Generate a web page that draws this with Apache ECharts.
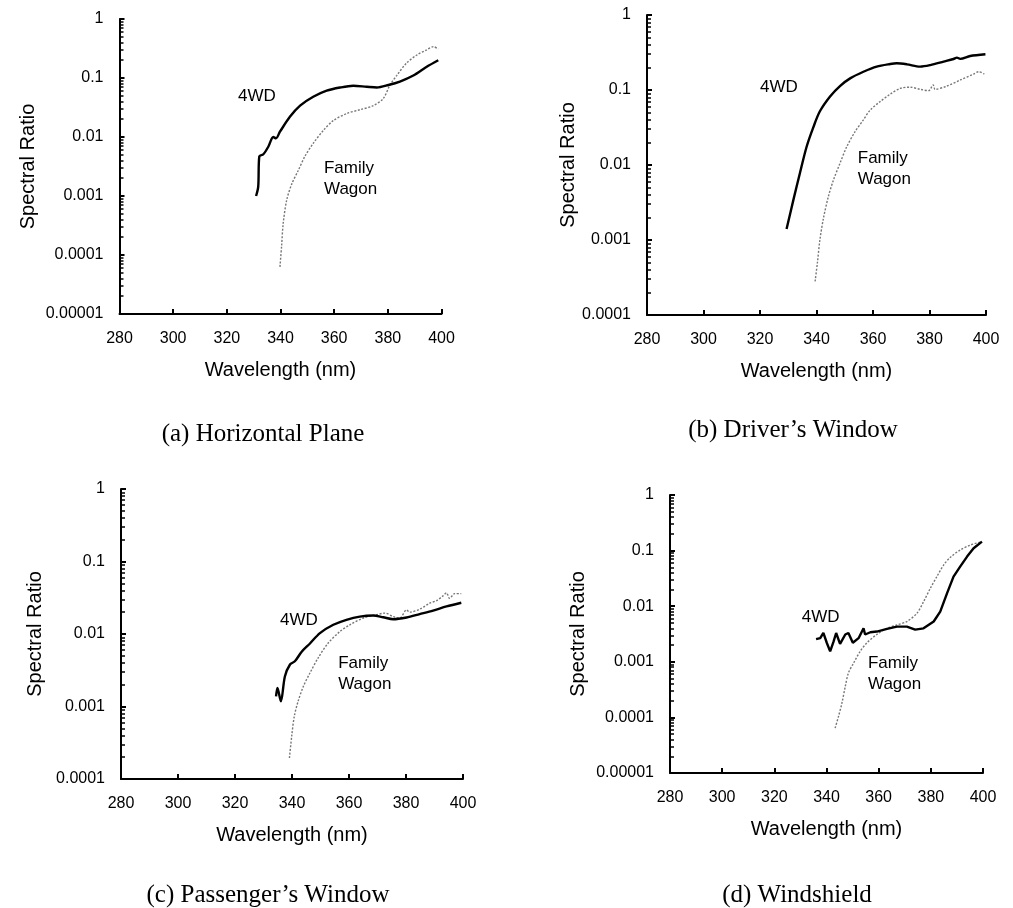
<!DOCTYPE html>
<html>
<head>
<meta charset="utf-8">
<script src="https://cdn.jsdelivr.net/npm/echarts@6/dist/echarts.min.js"></script>
<style>html,body{margin:0;padding:0;background:#fff}#c{width:1013px;height:908px}</style>
</head>
<body>
<div id="c"></div>
<script>
// ---- Data (wavelength nm, spectral ratio) ----
const xTicks = [280, 300, 320, 340, 360, 380, 400];
const yTicks5 = ['0.00001', '0.0001', '0.001', '0.01', '0.1', '1'];
const yTicks4 = ['0.0001', '0.001', '0.01', '0.1', '1'];
const captions = ['(a) Horizontal Plane', "(b) Driver\u2019s Window", "(c) Passenger\u2019s Window", '(d) Windshield'];
const seriesNames = ['4WD', 'Family\nWagon'];

const a4WD = [[330.9,0.001],[331.7,0.00144],[332.1,0.0047],[333.6,0.0051],[335.5,0.0069],[337.3,0.01],[338.3,0.0095],[339.8,0.0123],[343.5,0.022],[347.3,0.034],[352.2,0.048],[357.2,0.061],[362.2,0.069],[367.1,0.074],[372.1,0.071],[375.9,0.069],[380.2,0.076],[384.5,0.087],[389.5,0.11],[394.5,0.155],[398.8,0.20]];
const aFW = [[339.8,6.3e-5],[340.4,1.4e-4],[341.0,3.4e-4],[342.3,8.5e-4],[344.2,0.0016],[346.6,0.0027],[349.1,0.0047],[352.2,0.0078],[356.0,0.013],[359.7,0.019],[364.7,0.025],[369.6,0.029],[374.6,0.034],[378.3,0.045],[380.8,0.076],[383.3,0.11],[387.0,0.18],[390.8,0.245],[394.5,0.30],[397.0,0.34],[398.8,0.31]];

const b4WD = [[329.4,0.0014],[331.8,0.0034],[334.1,0.0077],[336.5,0.0175],[338.9,0.032],[341.2,0.052],[344.8,0.082],[348.3,0.113],[351.9,0.143],[356.6,0.175],[361.3,0.205],[366.1,0.222],[368.4,0.227],[372.0,0.22],[376.7,0.205],[380.3,0.215],[385.0,0.239],[388.5,0.259],[389.7,0.27],[390.9,0.26],[394.4,0.284],[399.8,0.30]];
const bFW = [[339.5,2.8e-4],[340.3,4.9e-4],[341.2,0.001],[342.4,0.0019],[344.2,0.0038],[346.0,0.0063],[348.3,0.0105],[350.7,0.0175],[353.7,0.028],[356.6,0.040],[359.0,0.054],[362.5,0.07],[366.1,0.088],[369.6,0.105],[373.2,0.109],[376.7,0.102],[379.7,0.098],[381.3,0.117],[382.0,0.102],[386.2,0.113],[390.9,0.136],[395.6,0.163],[397.4,0.175],[399.4,0.163]];

const c4WD = [[334.4,0.00138],[334.9,0.0018],[336.1,0.00118],[337.5,0.0026],[339.3,0.0038],[341.0,0.0042],[343.4,0.0057],[346.3,0.0074],[349.8,0.0103],[354.5,0.0134],[359.1,0.0157],[363.8,0.0174],[368.5,0.018],[372.0,0.017],[375.5,0.016],[380.2,0.0169],[384.8,0.0188],[389.5,0.021],[394.2,0.024],[399.4,0.027]];
const cFW = [[339.1,1.95e-4],[339.9,3.9e-4],[340.8,7.3e-4],[342.2,0.0012],[344.0,0.0019],[346.3,0.0029],[349.2,0.0047],[352.7,0.0075],[356.8,0.0108],[360.3,0.0134],[365.0,0.0166],[369.6,0.0184],[372.6,0.0194],[375.5,0.0174],[377.8,0.0166],[380.2,0.0215],[381.3,0.02],[384.8,0.022],[388.3,0.0266],[390.7,0.0288],[393.0,0.0336],[394.2,0.037],[395.3,0.031],[397.1,0.036],[399.4,0.036]];

const d4WD = [[336.0,0.00255],[337.6,0.00266],[338.8,0.0033],[340.1,0.0022],[341.4,0.00154],[342.7,0.0023],[343.7,0.0033],[345.2,0.0021],[347.2,0.0031],[348.4,0.0033],[350.1,0.0022],[352.3,0.00266],[354.2,0.004],[354.8,0.0031],[356.8,0.0034],[359.3,0.0035],[363.2,0.0039],[367.0,0.0043],[370.8,0.0043],[374.0,0.0038],[377.2,0.004],[381.1,0.0053],[383.6,0.008],[386.2,0.017],[388.7,0.034],[391.3,0.052],[393.9,0.078],[396.4,0.11],[399.6,0.145]];
const dFW = [[343.3,6.4e-5],[344.6,1.04e-4],[345.9,1.8e-4],[347.2,3.6e-4],[348.4,6.3e-4],[350.4,9.5e-4],[352.9,0.00154],[355.5,0.0022],[359.3,0.0031],[363.2,0.004],[367.0,0.0046],[370.8,0.0053],[374.7,0.0075],[377.2,0.012],[379.8,0.021],[382.3,0.034],[384.9,0.055],[387.5,0.076],[391.3,0.103],[395.2,0.126],[399.6,0.145]];

// ---- Layout ----
const panels = [
  {grid:{left:119.5, top:19, width:322, height:295}, ymin:1e-5, ymax:1, yt:yTicks5, w:a4WD, f:aFW, a4:[324.2,0.048], af:[356.2,0.00195], cap:[258,430], yGap:81},
  {grid:{left:647, top:15, width:339, height:300}, ymin:1e-4, ymax:1, yt:yTicks4, w:b4WD, f:bFW, a4:[320.0,0.109], af:[354.6,0.00885], cap:[788,426], yGap:69},
  {grid:{left:121, top:489, width:342, height:290}, ymin:1e-4, ymax:1, yt:yTicks4, w:c4WD, f:cFW, a4:[335.8,0.0153], af:[356.2,0.00283], cap:[263,891], yGap:76},
  {grid:{left:670, top:495, width:313, height:278}, ymin:1e-5, ymax:1, yt:yTicks5, w:d4WD, f:dFW, a4:[330.5,0.00626], af:[355.9,6.1e-4], cap:[792,891], yGap:82}
];

const SANS = 'Liberation Sans';
function minorVals(min, max) {
  const out = [];
  for (let e = Math.round(Math.log10(min)); e < Math.round(Math.log10(max)); e++) {
    for (let k = 2; k <= 9; k++) out.push(+(k * Math.pow(10, e)).toPrecision(3));
  }
  return out;
}
function majorVals(labels) { return labels.map(Number); }

const option = {
  animation: false,
  backgroundColor: '#fff',
  title: [], grid: [], xAxis: [], yAxis: [], series: []
};

panels.forEach((p, i) => {
  option.grid.push(Object.assign({containLabel: false}, p.grid));
  option.title.push({
    text: captions[i], left: p.cap[0], top: p.cap[1] - 13, textAlign: 'center',
    textStyle: {fontFamily: 'Liberation Serif', fontSize: 25, fontWeight: 'normal', color: '#000'}
  });
  option.xAxis.push({
    type: 'value', gridIndex: i, min: xTicks[0], max: xTicks[xTicks.length - 1], interval: 20,
    name: 'Wavelength (nm)', nameLocation: 'middle', nameGap: 46,
    nameTextStyle: {fontFamily: SANS, fontSize: 20, color: '#000'},
    axisLine: {show: true, lineStyle: {color: '#000', width: 2}},
    axisTick: {show: true, inside: true, length: 5, lineStyle: {color: '#000', width: 2}},
    axisLabel: {fontFamily: SANS, fontSize: 16, color: '#000', margin: 17,
      formatter: v => xTicks.indexOf(Math.round(v)) >= 0 ? String(Math.round(v)) : ''},
    splitLine: {show: false}
  });
  const yLbl = p.yt;
  option.yAxis.push({
    type: 'log', logBase: 10, gridIndex: i, min: p.ymin, max: p.ymax,
    name: 'Spectral Ratio', nameLocation: 'middle', nameGap: p.yGap, nameRotate: 90,
    nameTextStyle: {fontFamily: SANS, fontSize: 20, color: '#000'},
    axisLine: {show: true, lineStyle: {color: '#000', width: 2}},
    axisTick: {show: true, inside: true, length: 5, lineStyle: {color: '#000', width: 2}, customValues: majorVals(yLbl)},
    axisLabel: {fontFamily: SANS, fontSize: 16, color: '#000', margin: 16, customValues: majorVals(yLbl),
      formatter: v => { const s = yLbl.find(l => Math.abs(Math.log10(+l) - Math.log10(v)) < 1e-6); return s || ''; }},
    splitLine: {show: false}
  });
  // minor ticks overlay axis
  option.yAxis.push({
    type: 'log', logBase: 10, gridIndex: i, min: p.ymin, max: p.ymax, position: 'left',
    axisLine: {show: false},
    axisTick: {show: true, inside: true, length: 4, lineStyle: {color: '#000', width: 1.5}, customValues: minorVals(p.ymin, p.ymax)},
    axisLabel: {show: false},
    splitLine: {show: false}
  });
  const yIdx = i * 2;
  option.series.push({
    type: 'line', name: '4WD', xAxisIndex: i, yAxisIndex: yIdx, data: p.w,
    showSymbol: false, smooth: i === 3 ? false : 0.3,
    lineStyle: {color: '#000', width: 2.4}, z: 3,
    markPoint: {
      symbol: 'circle', symbolSize: 0, silent: true,
      label: {show: true, position: 'right', distance: 0, fontFamily: SANS, fontSize: 17, color: '#000', lineHeight: 21},
      data: [
        {coord: p.a4, value: 0, label: {formatter: seriesNames[0]}},
        {coord: p.af, value: 0, label: {formatter: seriesNames[1]}}
      ]
    }
  });
  option.series.push({
    type: 'line', name: 'Family Wagon', xAxisIndex: i, yAxisIndex: yIdx, data: p.f,
    showSymbol: false, smooth: 0.3,
    lineStyle: {color: '#777', width: 1.4, type: [2, 1.6]}, z: 2
  });
});

const chart = echarts.init(document.getElementById('c'), null, {renderer: 'canvas'});
chart.setOption(option);
</script>
</body>
</html>
